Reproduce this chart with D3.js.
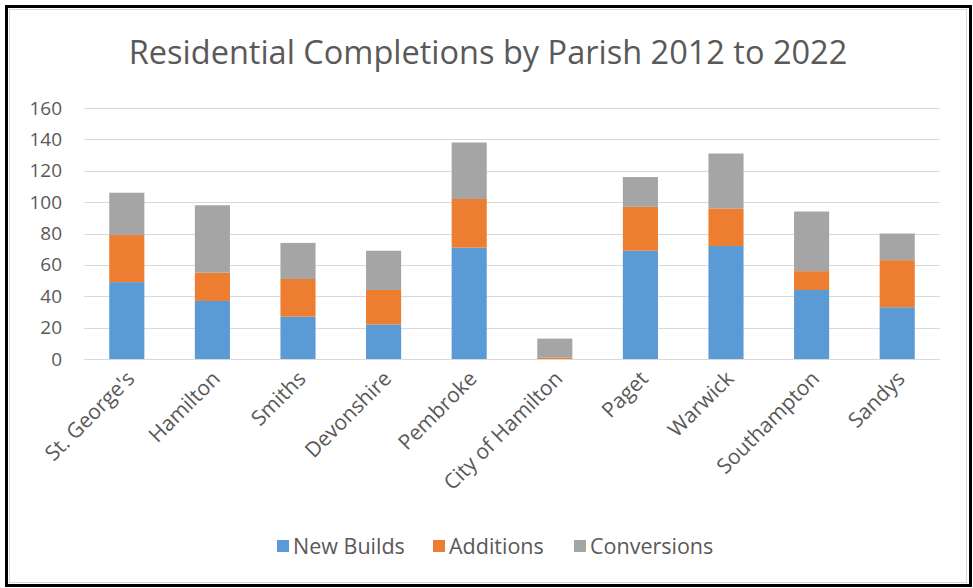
<!DOCTYPE html>
<html>
<head>
<meta charset="utf-8">
<script src="https://cdn.jsdelivr.net/npm/d3@7"></script>
<style>
  body { margin: 0; background: #fff; }
  text { font-family: "Open Sans", "Noto Sans", sans-serif; fill: #595959; }
</style>
</head>
<body>
<div id="chart"></div>
<script>
// Parishes and values per series
const parishes = ["St. George's", "Hamilton", "Smiths", "Devonshire", "Pembroke",
  "City of Hamilton", "Paget", "Warwick", "Southampton", "Sandys"];
const newBuilds = [49, 37, 27, 22, 71, 0, 69, 72, 44, 33];
const additions = [30, 18, 24, 22, 31, 1, 28, 24, 12, 30];
const conversions = [27, 43, 23, 25, 36, 12, 19, 35, 38, 17];
const seriesNames = ["New Builds", "Additions", "Conversions"];
const colors = ["#5b9bd5", "#ed7d31", "#a5a5a5"];
const yTicks = [0, 20, 40, 60, 80, 100, 120, 140, 160];

const W = 973, H = 588;
const margin = { top: 108, right: 33, bottom: 229, left: 84 };
const width = W - margin.left - margin.right;
const height = H - margin.top - margin.bottom;

const rows = parishes.map((p, i) => ({
  parish: p,
  "New Builds": newBuilds[i],
  "Additions": additions[i],
  "Conversions": conversions[i]
}));
const stacked = d3.stack().keys(seriesNames)(rows);

const svg = d3.select("#chart")
  .append("svg")
  .attr("width", W)
  .attr("height", H);

// Frame
svg.append("rect")
  .attr("x", 6.5).attr("y", 6.5)
  .attr("width", 964).attr("height", 579)
  .attr("fill", "none").attr("stroke", "#000").attr("stroke-width", 3);
svg.append("rect")
  .attr("x", 9.5).attr("y", 9.5)
  .attr("width", 957).attr("height", 573)
  .attr("fill", "none").attr("stroke", "#d9d9d9").attr("stroke-width", 1);

// Title
svg.append("text")
  .attr("x", 488)
  .attr("y", 64)
  .attr("text-anchor", "middle")
  .style("font-size", "32.5px")
  .text("Residential Completions by Parish 2012 to 2022");

const g = svg.append("g")
  .attr("transform", `translate(${margin.left},${margin.top})`);

const x = d3.scaleBand()
  .domain(parishes)
  .range([0, width])
  .paddingInner(0.59)
  .paddingOuter(0.295);

const y = d3.scaleLinear()
  .domain([0, 160])
  .range([height, 0]);

// Gridlines
g.append("g")
  .selectAll("line")
  .data(yTicks)
  .enter()
  .append("line")
  .attr("x1", 0)
  .attr("x2", width)
  .attr("y1", d => Math.round(y(d)) + 0.5)
  .attr("y2", d => Math.round(y(d)) + 0.5)
  .attr("stroke", "#d9d9d9")
  .attr("stroke-width", 1);

// Y axis labels
const yAxis = g.append("g")
  .call(d3.axisLeft(y).tickValues(yTicks).tickSize(0).tickPadding(22));
yAxis.select(".domain").remove();
yAxis.selectAll("text")
  .style("font-size", "19px")
  .attr("fill", "#595959");

// Bars
g.selectAll(".series")
  .data(stacked)
  .enter()
  .append("g")
  .attr("class", "series")
  .attr("fill", (d, i) => colors[i])
  .selectAll("rect")
  .data(d => d)
  .enter()
  .append("rect")
  .attr("x", d => x(d.data.parish))
  .attr("y", d => y(d[1]))
  .attr("width", x.bandwidth())
  .attr("height", d => y(d[0]) - y(d[1]));

// X axis labels
const xAxis = g.append("g")
  .attr("transform", `translate(0,${height})`)
  .call(d3.axisBottom(x).tickSize(0).tickPadding(0));
xAxis.select(".domain").remove();
xAxis.selectAll("text")
  .style("font-size", "21px")
  .attr("fill", "#595959")
  .attr("text-anchor", "end")
  .attr("dy", null)
  .attr("transform", "translate(9,21) rotate(-45)");

// Legend
const legendX = [277, 433, 574];
const legend = svg.append("g")
  .selectAll("g")
  .data(seriesNames)
  .enter()
  .append("g")
  .attr("transform", (d, i) => `translate(${legendX[i]},546)`);
legend.append("rect")
  .attr("x", 0).attr("y", -6)
  .attr("width", 12).attr("height", 12)
  .attr("fill", (d, i) => colors[i]);
legend.append("text")
  .attr("x", 16)
  .attr("y", 0)
  .attr("dy", "0.35em")
  .style("font-size", "21.5px")
  .text(d => d);
</script>
</body>
</html>
